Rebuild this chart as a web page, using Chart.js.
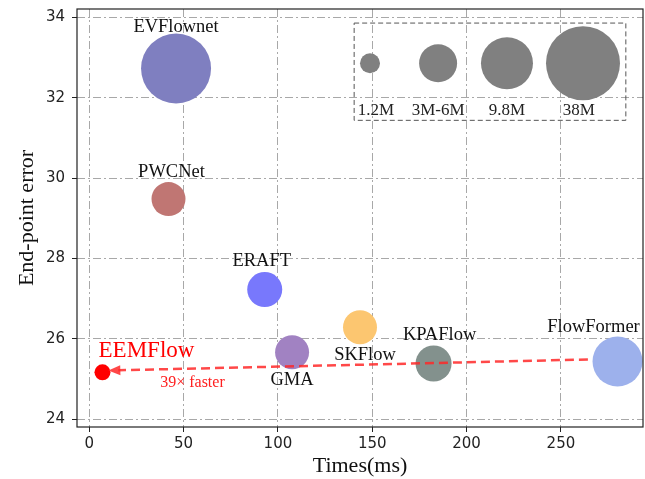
<!DOCTYPE html>
<html>
<head>
<meta charset="utf-8">
<script src="https://cdn.jsdelivr.net/npm/chart.js@4.4.1/dist/chart.umd.min.js"></script>
<style>
html, body { margin: 0; padding: 0; background: #fff; }
</style>
</head>
<body>
<canvas id="myChart" width="645" height="479"></canvas>
<script>
// data
var methods = ["EEMFlow", "EVFlownet", "PWCNet", "ERAFT", "GMA", "SKFlow", "KPAFlow", "FlowFormer"];
var times = [7, 46, 42, 93, 107.5, 143.5, 182.5, 280];
var epe = [25.17, 32.73, 29.48, 27.23, 25.67, 26.29, 25.39, 25.44];
var sizeLabels = ["1.2M", "3M-6M", "9.8M", "38M"];
var xTicks = [0, 50, 100, 150, 200, 250];
var yTicks = [24, 26, 28, 30, 32, 34];

// looks
var bubbleRadius = [8, 35, 17, 17.5, 17, 17, 18, 25];
var colors = ["#ff0000", "#7f7fc0", "#c07673", "#7878fc", "#a182c2", "#fcc670", "#83918d", "#9db1ec"];
var labelOffsets = [[44, -21], [0, -41], [3, -27], [-3, -28], [0, 28], [5, 28], [6, -28], [-24, -34]];
var legendX = [148.8, 184.9, 221.4, 261.7];
var legendR = [10, 19, 26, 37];
var legendTextX = [152, 184.9, 221.4, 259.5];

var ctx = document.getElementById("myChart").getContext("2d");

var points = [];
for (var i = 0; i < methods.length; i++) {
    points.push({ x: times[i], y: epe[i], r: bubbleRadius[i] });
}

var serif = "'Liberation Serif', 'Times New Roman', serif";

var annotations = {
    id: "annotations",
    afterDatasetsDraw: function (chart) {
        var c = chart.ctx;
        var xs = chart.scales.x;
        var ys = chart.scales.y;
        var a = chart.chartArea;
        c.save();

        // size legend box
        c.setLineDash([5, 3]);
        c.strokeStyle = "#555";
        c.lineWidth = 1;
        var bx0 = xs.getPixelForValue(140.4), bx1 = xs.getPixelForValue(284.4);
        var by0 = ys.getPixelForValue(33.86), by1 = ys.getPixelForValue(31.44);
        c.strokeRect(bx0, by0, bx1 - bx0, by1 - by0);
        c.setLineDash([]);
        c.fillStyle = "#808080";
        for (var k = 0; k < sizeLabels.length; k++) {
            c.beginPath();
            c.arc(xs.getPixelForValue(legendX[k]), ys.getPixelForValue(32.86), legendR[k], 0, Math.PI * 2);
            c.fill();
        }
        c.fillStyle = "#222";
        c.font = "17px " + serif;
        c.textAlign = "center";
        c.textBaseline = "middle";
        for (k = 0; k < sizeLabels.length; k++) {
            c.fillText(sizeLabels[k], xs.getPixelForValue(legendTextX[k]), ys.getPixelForValue(31.69));
        }

        // arrow FlowFormer -> EEMFlow
        var x0 = xs.getPixelForValue(264.3), y0 = ys.getPixelForValue(25.49);
        var x1 = xs.getPixelForValue(10.1), y1 = ys.getPixelForValue(25.215);
        var ang = Math.atan2(y1 - y0, x1 - x0);
        c.strokeStyle = "rgba(255,40,40,0.85)";
        c.fillStyle = "rgba(255,40,40,0.85)";
        c.lineWidth = 2.5;
        c.setLineDash([9, 5]);
        c.beginPath();
        c.moveTo(x0, y0);
        c.lineTo(x1 + 10 * Math.cos(ang + Math.PI), y1 + 10 * Math.sin(ang + Math.PI));
        c.stroke();
        c.setLineDash([]);
        c.beginPath();
        c.moveTo(x1, y1);
        c.lineTo(x1 - 12 * Math.cos(ang) - 5 * Math.sin(ang), y1 - 12 * Math.sin(ang) + 5 * Math.cos(ang));
        c.lineTo(x1 - 12 * Math.cos(ang) + 5 * Math.sin(ang), y1 - 12 * Math.sin(ang) - 5 * Math.cos(ang));
        c.closePath();
        c.fill();

        // method labels
        for (var i = 0; i < methods.length; i++) {
            var px = xs.getPixelForValue(times[i]) + labelOffsets[i][0];
            var py = ys.getPixelForValue(epe[i]) + labelOffsets[i][1];
            if (i === 0) {
                c.fillStyle = "#ff0000";
                c.font = "23px " + serif;
            } else {
                c.fillStyle = "#111";
                c.font = "18.5px " + serif;
            }
            c.fillText(methods[i], px, py);
        }
        c.fillStyle = "#ff2020";
        c.font = "16px " + serif;
        c.fillText("39\u00d7 faster", xs.getPixelForValue(times[0]) + 90, ys.getPixelForValue(epe[0]) + 10);

        // axes frame
        c.strokeStyle = "#222";
        c.lineWidth = 1.2;
        c.strokeRect(a.left, a.top, a.right - a.left, a.bottom - a.top);
        c.restore();
    },
};

var myChart = new Chart(ctx, {
    type: "bubble",
    data: {
        datasets: [
            {
                data: points,
                backgroundColor: colors,
                borderWidth: 0,
            },
        ],
    },
    options: {
        responsive: false,
        animation: false,
        events: [],
        devicePixelRatio: 1,
        clip: false,
        layout: { autoPadding: false, padding: { left: 0, right: 2, top: 9, bottom: 0 } },
        plugins: {
            legend: { display: false },
            tooltip: { enabled: false },
        },
        scales: {
            x: {
                type: "linear",
                min: -6.5,
                max: 293.5,
                afterBuildTicks: function (s) {
                    s.ticks = xTicks.map(function (v) { return { value: v }; });
                },
                afterFit: function (s) {
                    s.height = 52;
                    s.paddingLeft = 0;
                    s.paddingRight = 0;
                },
                grid: {
                    color: "#a8a8a8",
                    lineWidth: 1,
                    tickLength: 5,
                    tickColor: "#222",
                    tickWidth: 1,
                    tickBorderDash: [],
                },
                border: { display: false, dash: [8, 3, 2, 3] },
                ticks: {
                    padding: 3,
                    color: "#222",
                    font: { family: "'DejaVu Sans'", size: 15 },
                    maxRotation: 0,
                },
                title: {
                    display: true,
                    text: "Times(ms)",
                    color: "#111",
                    font: { family: serif, size: 22 },
                    padding: { top: 0, bottom: 0 },
                },
            },
            y: {
                type: "linear",
                min: 23.81,
                max: 34.21,
                afterBuildTicks: function (s) {
                    s.ticks = yTicks.map(function (v) { return { value: v }; });
                },
                afterFit: function (s) {
                    s.width = 77;
                    s.paddingTop = 0;
                    s.paddingBottom = 0;
                },
                grid: {
                    color: "#a8a8a8",
                    lineWidth: 1,
                    tickLength: 5,
                    tickColor: "#222",
                    tickWidth: 1,
                    tickBorderDash: [],
                },
                border: { display: false, dash: [8, 3, 2, 3] },
                ticks: {
                    padding: 7,
                    color: "#222",
                    font: { family: "'DejaVu Sans'", size: 15 },
                },
                title: {
                    display: true,
                    text: "End-point error",
                    color: "#111",
                    font: { family: serif, size: 22 },
                    padding: { top: 14, bottom: 0 },
                },
            },
        },
    },
    plugins: [annotations],
});
</script>
</body>
</html>
